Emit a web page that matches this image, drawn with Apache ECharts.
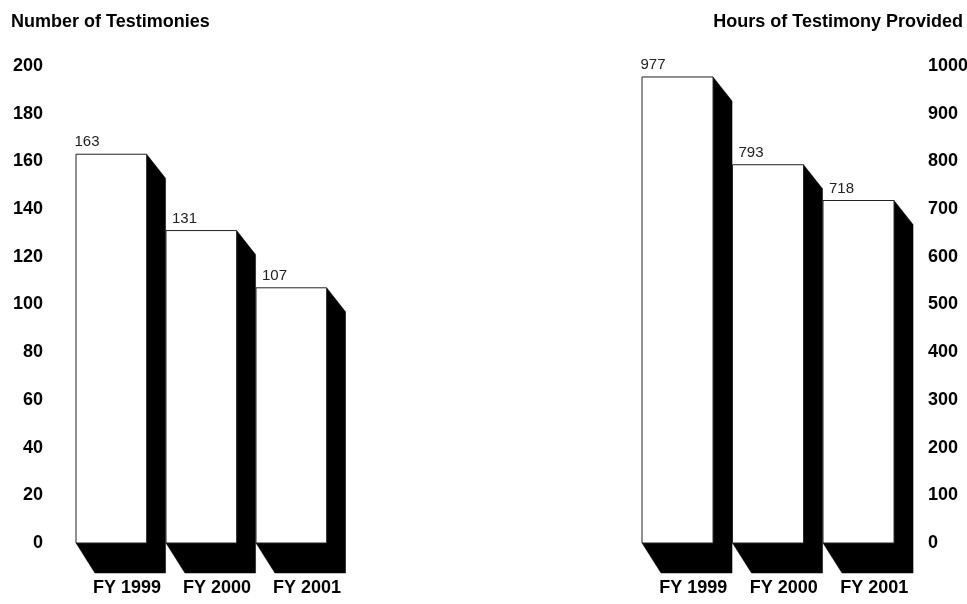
<!DOCTYPE html>
<html>
<head>
<meta charset="utf-8">
<script src="https://cdn.jsdelivr.net/npm/echarts@6/dist/echarts.min.js"></script>
<style>
html,body{margin:0;padding:0;background:#fff;}
#c{width:967px;height:604px;}
</style>
</head>
<body>
<div id="c"></div>
<script>
var categories = ['FY 1999', 'FY 2000', 'FY 2001'];
var testimonies = [163, 131, 107];
var hours = [977, 793, 718];
var leftTitle = 'Number of Testimonies';
var rightTitle = 'Hours of Testimony Provided';

var FONT = '"Liberation Sans", Arial, Helvetica, sans-serif';

function render3D(params, api) {
  var idx = api.value(0);
  var val = api.value(1);
  var top = api.coord([idx, val]);
  var base = api.coord([idx, 0]);
  var band = api.size([1, 0])[0];
  var x0 = top[0] - band / 2;
  var w = band * 0.785;
  var x1 = x0 + w;
  var yt = top[1];
  var yb = base[1];
  var dx = band * 0.21;
  var dyT = 24;
  var dyB = 30;
  var labelCx = x0 + (idx === 0 ? 11 : 18.5);
  return {
    type: 'group',
    children: [
      {
        type: 'polygon',
        shape: { points: [[x1, yt], [x1 + dx, yt + dyT], [x1 + dx, yb + dyB], [x0 + dx, yb + dyB], [x0, yb], [x1, yb]] },
        style: { fill: '#000', stroke: '#000', lineWidth: 0.5 }
      },
      {
        type: 'rect',
        shape: { x: x0, y: yt, width: w, height: yb - yt },
        style: { fill: '#fff', stroke: '#222', lineWidth: 1 }
      },
      {
        type: 'text',
        style: {
          text: String(val), x: labelCx, y: yt - 12,
          align: 'center', verticalAlign: 'middle',
          fill: '#222', font: '15px ' + FONT
        }
      }
    ]
  };
}

function toData(arr) { return arr.map(function (v, i) { return [i, v]; }); }

var chart = echarts.init(document.getElementById('c'));
var yLabel = { color: '#000', fontSize: 18, fontWeight: 'bold', fontFamily: FONT, formatter: function (v) { return String(v); } };
var xLabel = { color: '#000', fontSize: 18, fontWeight: 'bold', fontFamily: FONT, margin: 36, padding: [0, 0, 0, 12], interval: 0 };
var titleStyle = { color: '#000', fontSize: 18, fontWeight: 'bold', fontFamily: FONT };

chart.setOption({
  animation: false,
  backgroundColor: '#fff',
  title: [
    { text: leftTitle, left: 11, top: 13, padding: 0, textStyle: titleStyle },
    { text: rightTitle, right: 4, top: 13, padding: 0, textStyle: titleStyle }
  ],
  grid: [
    { left: 76, width: 270, top: 66, bottom: 61, outerBoundsMode: 'none', containLabel: false },
    { left: 642, width: 271.5, top: 66, bottom: 61, outerBoundsMode: 'none', containLabel: false }
  ],
  xAxis: [
    { type: 'category', gridIndex: 0, data: categories, axisLine: { show: false }, axisTick: { show: false }, axisLabel: xLabel },
    { type: 'category', gridIndex: 1, data: categories, axisLine: { show: false }, axisTick: { show: false }, axisLabel: xLabel }
  ],
  yAxis: [
    { type: 'value', gridIndex: 0, min: 0, max: 200, interval: 20, position: 'left',
      axisLine: { show: false }, axisTick: { show: false }, splitLine: { show: false },
      axisLabel: Object.assign({ margin: 33 }, yLabel) },
    { type: 'value', gridIndex: 1, min: 0, max: 1000, interval: 100, position: 'right',
      axisLine: { show: false }, axisTick: { show: false }, splitLine: { show: false },
      axisLabel: Object.assign({ margin: 14.5, align: 'left' }, yLabel) }
  ],
  series: [
    { type: 'custom', xAxisIndex: 0, yAxisIndex: 0, renderItem: render3D, data: toData(testimonies), encode: { x: 0, y: 1 } },
    { type: 'custom', xAxisIndex: 1, yAxisIndex: 1, renderItem: render3D, data: toData(hours), encode: { x: 0, y: 1 } }
  ]
});
</script>
</body>
</html>
